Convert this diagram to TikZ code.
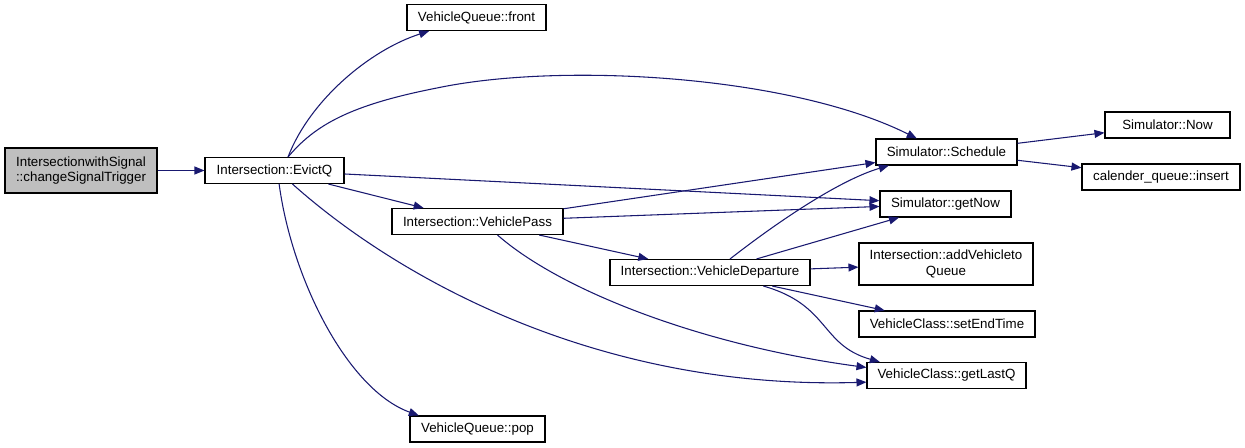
\documentclass[tikz,border=0pt]{standalone}
\usepackage{fontspec}
\setmainfont{Liberation Sans}
\usetikzlibrary{arrows.meta}
\definecolor{edgeblue}{RGB}{25,25,112}
\definecolor{rootgray}{RGB}{191,191,191}
\begin{document}
\begin{tikzpicture}[x=0.75pt,y=-0.75pt,
  fn/.style={draw,line width=0.8pt,fill=white,inner sep=0pt,align=center,
    font=\fontsize{10}{11.5}\selectfont,minimum height=26*0.75pt,minimum width=#1*0.75pt},
  call/.style={draw=edgeblue,line width=0.8pt,-{Triangle[length=7.5pt,width=6pt]},color=edgeblue}]
\useasboundingbox (0,0) rectangle (1245,448);
\node[fn=152,fill=rootgray,minimum height=45*0.75pt] (trig) at (81,170.5) {IntersectionwithSignal\\::changeSignalTrigger};
\node[fn=139] (evict) at (274.5,170.5) {Intersection::EvictQ};
\node[fn=139] (front) at (476.5,17.5) {VehicleQueue::front};
\node[fn=171] (pass) at (477.5,221.5) {Intersection::VehiclePass};
\node[fn=135] (pop) at (477.5,429) {VehicleQueue::pop};
\node[fn=141] (sched) at (946.5,152) {Simulator::Schedule};
\node[fn=131] (getnow) at (945.5,204) {Simulator::getNow};
\node[fn=200] (depart) at (710,272.5) {Intersection::VehicleDeparture};
\node[fn=174,minimum height=42*0.75pt] (addveh) at (946,264) {Intersection::addVehicleto\\Queue};
\node[fn=176] (setend) at (947,324) {VehicleClass::setEndTime};
\node[fn=159] (lastq) at (946.5,375.5) {VehicleClass::getLastQ};
\node[fn=125] (now) at (1167.5,125) {Simulator::Now};
\node[fn=158] (insert) at (1161,177) {calender\_queue::insert};
% calls from the trigger and EvictQ
\draw[call] (trig) -- (evict);
\draw[call] (evict.45) .. controls (310,100) and (370,50) .. ([xshift=17pt]front.south west);
\draw[call] (evict.45) .. controls (315,125) and (350,105) .. (437,88) .. controls (560,62) and (790,75) .. ([xshift=31pt]sched.north west);
\draw[call] (evict) -- (getnow);
\draw[call] (evict) -- (pass);
\draw[call] ([xshift=66pt]evict.south west) .. controls (400,280) and (600,390) .. ([yshift=-5pt]lastq.west);
\draw[call] ([xshift=56pt]evict.south west) .. controls (292,280) and (348,390) .. ([xshift=7pt]pop.north west);
% calls from VehiclePass
\draw[call] (pass) -- (sched);
\draw[call] (pass) -- (getnow);
\draw[call] (pass) -- (depart);
\draw[call] ([xshift=15pt]pass.south) .. controls (560,290) and (700,345) .. ([yshift=6pt]lastq.west);
% calls from VehicleDeparture
\draw[call] ([xshift=15pt]depart.north) .. controls (780,220) and (840,180) .. ([xshift=10pt]sched.south west);
\draw[call] (depart) -- (getnow);
\draw[call] (depart) -- (addveh);
\draw[call] (depart) -- (setend);
\draw[call] ([xshift=40pt]depart.south) .. controls (830,305) and (820,345) .. ([xshift=10pt]lastq.north west);
% calls from Schedule
\draw[call] (sched) -- (now);
\draw[call] (sched) -- (insert);
\end{tikzpicture}
\end{document}
